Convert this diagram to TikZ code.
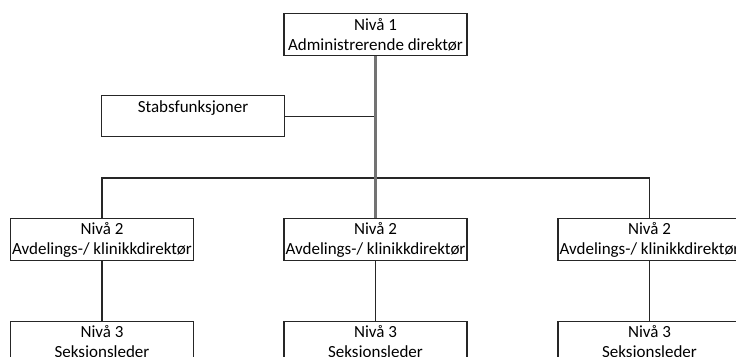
\documentclass[tikz,border=0pt]{standalone}
\usepackage{fontspec}
\setmainfont{Carlito}

\begin{document}
\begin{tikzpicture}[x=1pt,y=-1pt]
    \tikzset{Boks/.style = {draw=black!85, line width=1.2pt, anchor=north,
        minimum width=183pt, minimum height=42pt, inner sep=0pt,
        align=center, font=\fontsize{17}{20}\selectfont}}
    \tikzset{Linje/.style = {draw=black!85, line width=1.2pt}}
    \tikzset{Stamme/.style = {draw=black!55, line width=2.2pt}}
    \useasboundingbox (0,0) rectangle (736,356);
    \clip (0,0) rectangle (736,356);

    \node[Boks] (N1) at (375.5,13) {Nivå 1\\Administrerende direktør};
    \node[Boks, minimum height=41pt] (Stab) at (193,95) {Stabsfunksjoner\\\mbox{}};

    \node[Boks] (A2) at (102,218) {Nivå 2\\Avdelings-/ klinikkdirektør};
    \node[Boks] (B2) at (375.5,218) {Nivå 2\\Avdelings-/ klinikkdirektør};
    \node[Boks] (C2) at (649.5,218) {Nivå 2\\Avdelings-/ klinikkdirektør};

    \node[Boks] (A3) at (102,321) {Nivå 3\\Seksjonsleder};
    \node[Boks] (B3) at (375.5,321) {Nivå 3\\Seksjonsleder};
    \node[Boks] (C3) at (649.5,321) {Nivå 3\\Seksjonsleder};

    \coordinate (Tverr) at (375.5,178);

    \draw[Linje] (Stab.east) -- (Stab.east -| N1);
    \draw[Linje] (A2.north) |- (Tverr) -| (C2.north);
    \foreach \v in {A,B,C}
        \draw[Linje] (\v2) -- (\v3);
    \draw[Stamme] (N1) -- (B2);
\end{tikzpicture}
\end{document}
